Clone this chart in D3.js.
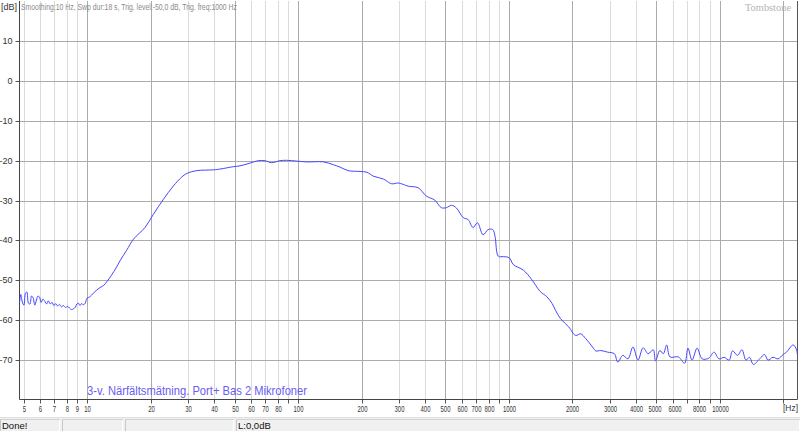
<!DOCTYPE html>
<html><head><meta charset="utf-8">
<script src="https://cdn.jsdelivr.net/npm/d3@7"></script>
<style>
body{margin:0;background:#fff;}
svg{display:block;}
text{font-family:"Liberation Sans",Arial,sans-serif;}
</style></head><body>
<svg id="c" width="800" height="431"></svg>
<script>
// ---- data ----
const freqHz = [4.78,4.85,4.93,5.02,5.10,5.18,5.27,5.36,5.45,5.55,5.65,5.75,5.85,5.95,6.05,6.17,6.30,6.42,6.55,6.68,6.82,6.96,7.10,7.25,7.40,7.55,7.72,7.90,8.08,8.25,8.45,8.62,8.80,8.95,9.10,9.25,9.40,9.60,9.80,9.97,10.3,10.7,11.1,11.5,12.0,12.4,13.0,13.8,14.3,15.4,16.6,18.8,20.6,23.0,25.6,28.1,29.7,33.1,39.7,42.7,49.4,53.1,59.2,64.7,69.7,75,82.1,88.3,98.6,110,132,147,158,173,197,212,228,254,278,299,333,371,406,445,478,505,534,564,607,640,676,709,754,797,838,859,891,941,1004,1049,1170,1280,1403,1514,1603,1663,1757,1923,2071,2188,2312,2490,2583,2728,2935,3159,3281,3468,3665,3873,4093,4326,4571,4831,4955,5196,5395,5595,5804,6367,6806,7060,7380,7801,8245,8873,9378,9910,10475,11070,11482,12136,12723,13300,13810,14433,15426,16302,16905,17865,18880,19953,20700,22260,23100,23340];
const levelDb = [-55.8,-53.6,-55.5,-56.3,-53.3,-53.0,-55.8,-56.0,-54.0,-54.5,-56.3,-55.0,-54.0,-54.3,-55.6,-54.8,-55.3,-56.0,-55.2,-56.0,-55.6,-56.4,-55.9,-56.5,-56.1,-56.7,-56.4,-56.9,-56.6,-57.0,-57.4,-57.2,-56.8,-56.0,-55.8,-56.4,-55.9,-56.2,-55.8,-54.6,-54.2,-53.3,-52.5,-51.9,-51.3,-50.4,-48.9,-46.7,-45.2,-42.5,-39.7,-36.8,-33.5,-29.7,-26.4,-24.1,-23.2,-22.5,-22.3,-22.1,-21.5,-21.3,-20.6,-20.0,-20.0,-20.5,-20.0,-19.9,-20.1,-20.3,-20.3,-21.0,-21.6,-22.5,-22.7,-22.9,-23.9,-24.6,-25.8,-25.6,-26.4,-26.8,-28.9,-29.9,-31.8,-31.8,-31.2,-31.9,-34.3,-34.8,-36.8,-35.6,-38.6,-37.3,-37.3,-39.0,-44.0,-44.1,-44.4,-46.1,-47.5,-49.8,-52.8,-54.2,-55.9,-57.6,-59.7,-61.8,-63.9,-63.5,-64.7,-66.8,-67.8,-67.7,-68.1,-68.5,-70.6,-68.9,-69.8,-66.8,-70.1,-67.0,-68.5,-67.5,-70.3,-67.7,-68.5,-66.3,-69.3,-69.3,-70.9,-67.1,-70.1,-67.1,-69.8,-69.6,-68.1,-69.8,-69.4,-70.1,-67.8,-68.9,-67.5,-70.1,-69.4,-71.2,-69.8,-68.7,-70.1,-69.4,-69.8,-68.7,-68.1,-66.3,-67.5,-69.0];
const xTicks = [5,6,7,8,9,10,20,30,40,50,60,70,80,90,100,200,300,400,500,600,700,800,900,1000,2000,3000,4000,5000,6000,7000,8000,9000,10000,20000];
const xUnlabeled = [90,900,7000,9000,20000];
const yTicks = [-70,-60,-50,-40,-30,-20,-10,0,10];
const seriesName = "3-v. Närfältsmätning. Port+ Bas 2 Mikrofoner";
const headerText = "Smoothing:10 Hz, Swp dur:18 s, Trig. level:-50,0 dB, Trig. freq:1000 Hz";
const statusTexts = ["Done!", "", "", "L:0,0dB"];

// ---- layout ----
const L = 19.5, R = 797.5, T = 1, B = 399.5;
const svg = d3.select("#c");
const x = d3.scaleLog().domain([4.78, 23340]).range([L, R]);
const y = d3.scaleLinear().domain([-80, 20]).range([B, 1.5]);
const px = v => Math.round(x(v)) + 0.5;
const py = v => Math.round(y(v)) + 0.5;
const isMajor = v => { const m = v / Math.pow(10, Math.floor(Math.log10(v) + 1e-9)); return Math.abs(m-1)<1e-6 || Math.abs(m-2)<1e-6 || Math.abs(m-5)<1e-6; };

// vertical grid
svg.append("g").selectAll("line").data(xTicks).join("line")
  .attr("x1", px).attr("x2", px).attr("y1", T).attr("y2", B)
  .attr("stroke", d => (isMajor(d) && d !== 5) ? "#ababab" : "#dadada").attr("stroke-width", 1);
// horizontal grid
svg.append("g").selectAll("line").data(yTicks).join("line")
  .attr("x1", L).attr("x2", R).attr("y1", py).attr("y2", py)
  .attr("stroke", "#ababab").attr("stroke-width", 1);

// axes
const xAxis = d3.axisBottom(x).tickValues(xTicks).tickSize(4).tickPadding(2)
  .tickFormat(d => xUnlabeled.includes(d) ? "" : String(d));
const gx = svg.append("g").attr("transform", `translate(0,${B})`).call(xAxis);
gx.selectAll(".tick").attr("transform", d => `translate(${px(d)},0)`);
const yAxis = d3.axisLeft(y).tickValues(yTicks).tickSize(4).tickPadding(3).tickFormat(d => String(d));
const gy = svg.append("g").attr("transform", `translate(${L},0)`).call(yAxis);
gy.selectAll(".tick").attr("transform", d => `translate(0,${py(d)})`);
[gx, gy].forEach(g => {
  g.select(".domain").remove();
  g.selectAll(".tick line").attr("stroke", "#555");
  g.selectAll(".tick text").attr("fill", "#333").attr("font-size", 9).attr("font-family", '"Liberation Sans",Arial,sans-serif');
});
gx.selectAll(".tick text").attr("font-size", 8.5)
  .attr("dx", d => d === 5000 ? -1.5 : d === 6000 ? 1.5 : 0)
  .each(function() {
    const t = d3.select(this).text();
    if (t) d3.select(this).attr("textLength", t.length * 3.3).attr("lengthAdjust", "spacingAndGlyphs");
  });
// frame lines
svg.append("line").attr("x1", L).attr("x2", L).attr("y1", T).attr("y2", B).attr("stroke", "#444");
svg.append("line").attr("x1", L).attr("x2", R).attr("y1", B).attr("y2", B).attr("stroke", "#444");
svg.append("line").attr("x1", R).attr("x2", R).attr("y1", T).attr("y2", B).attr("stroke", "#555");

// curve
svg.append("clipPath").attr("id", "clip").append("rect").attr("x", L).attr("y", T).attr("width", R - L).attr("height", B - T);
const pts = freqHz.map((f, i) => ({f, v: levelDb[i]}));
svg.append("path").datum(pts).attr("clip-path", "url(#clip)")
  .attr("fill", "none").attr("stroke", "#4646ff").attr("stroke-width", 1)
  .attr("d", d3.line().curve(d3.curveCatmullRom.alpha(0.5)).x(d => x(d.f)).y(d => y(d.v)));

// texts
svg.append("text").attr("x", 17).attr("y", 10).attr("text-anchor", "end").attr("font-size", 9).attr("fill", "#333").text("[dB]");
svg.append("text").attr("x", 21).attr("y", 10).attr("font-size", 8.5).attr("fill", "#8a8a8a")
  .attr("textLength", 216).attr("lengthAdjust", "spacingAndGlyphs").text(headerText);
svg.append("text").attr("x", 745).attr("y", 11).attr("font-size", 10).attr("fill", "#b4b4b4")
  .style("font-family", '"Liberation Serif",serif').attr("textLength", 46).attr("lengthAdjust", "spacingAndGlyphs").text("Tombstone");
svg.append("text").attr("x", 783).attr("y", 411).attr("font-size", 9).attr("fill", "#333")
  .attr("textLength", 15).attr("lengthAdjust", "spacingAndGlyphs").text("[Hz]");
svg.append("text").attr("x", 87).attr("y", 395).attr("font-size", 13).attr("fill", "#6a5cf5")
  .attr("textLength", 220).attr("lengthAdjust", "spacingAndGlyphs").text(seriesName);

// status bar
svg.append("rect").attr("x", 0).attr("y", 417).attr("width", 800).attr("height", 14).attr("fill", "#f0f0f0");
svg.append("line").attr("x1", 0).attr("x2", 800).attr("y1", 417.5).attr("y2", 417.5).attr("stroke", "#e0e0e0");
const panels = [[0, 60], [62, 123], [125, 234], [236, 800]];
panels.forEach((p, i) => {
  const g = svg.append("g");
  g.append("line").attr("x1", p[0] + 0.5).attr("x2", p[0] + 0.5).attr("y1", 419).attr("y2", 431).attr("stroke", "#c8c8c8");
  g.append("line").attr("x1", p[1] - 0.5).attr("x2", p[1] - 0.5).attr("y1", 419).attr("y2", 431).attr("stroke", "#ffffff");
  g.append("line").attr("x1", p[0]).attr("x2", p[1]).attr("y1", 419.5).attr("y2", 419.5).attr("stroke", "#d2d2d2");
  if (statusTexts[i]) g.append("text").attr("x", p[0] + 2).attr("y", 429).attr("font-size", 9.5).attr("fill", "#111").text(statusTexts[i]);
});
</script>
</body></html>
